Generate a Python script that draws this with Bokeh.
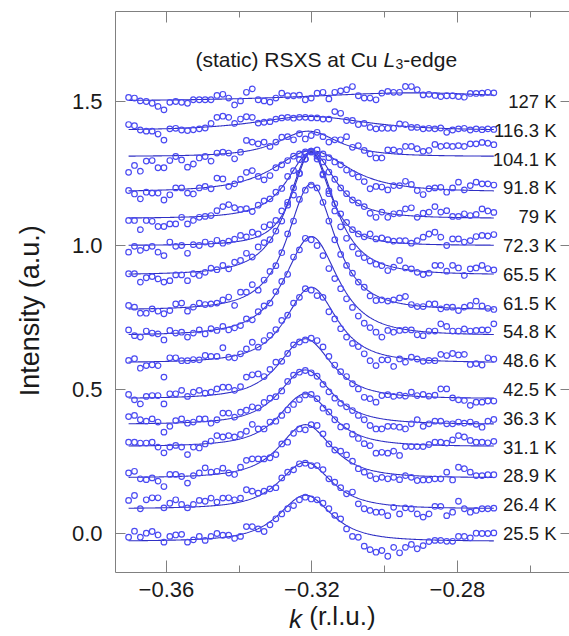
import numpy as np
from bokeh.plotting import figure
from bokeh.models import LinearAxis, FixedTicker, Label, Range1d, CustomJSTickFormatter
from bokeh.core.properties import value
from bokeh.embed import file_html
from bokeh.resources import INLINE

# ---------------- data ----------------
temperatures = ["25.5 K", "26.4 K", "28.9 K", "31.1 K", "36.3 K", "42.5 K",
                "48.6 K", "54.8 K", "61.5 K", "65.5 K", "72.3 K", "79 K",
                "91.8 K", "104.1 K", "116.3 K", "127 K"]
offsets = [0.0, 0.1, 0.2, 0.3, 0.4, 0.5, 0.6, 0.7, 0.8, 0.9, 1.0, 1.1, 1.2, 1.3, 1.4, 1.5]

k_first = -0.3704
k_last = -0.2700
n_points = 63

# measured intensity (units of 1e-3 a.u.) relative to each curve's offset
I_25p5 = [-13, 8, -13, 1, 7, -5, -30, -10, -5, -3, -30, -22, -10, -24, -10, 0, -6, -6, -17, -10, 24, 24, 16, 7, 30, 51, 68, 86, 97, 117, 126, 120, 117, 105, 86, 63, 51, 16, -10, -13, -44, -56, -65, -59, -79, -48, -67, -48, -38, -53, -42, -28, -24, -24, -27, -27, -10, -10, -15, 1, 0, 0, 2]
I_26p4 = [15, 32, -14, 17, 24, 24, -11, 5, 17, 1, -11, 1, 15, 12, 23, 9, 23, 24, 17, 23, 52, 47, 40, 47, 55, 59, 93, 113, 121, 142, 144, 136, 136, 122, 90, 78, 59, 38, 44, 3, -14, -20, -26, -26, -38, -9, -32, -11, -14, -32, -43, -32, -6, -6, -38, -26, 12, -14, -26, -20, -14, -14, -12]
I_28p9 = [10, 16, -10, -13, -7, -18, -37, 5, 5, -2, -25, 1, 10, 28, 13, 16, 27, 10, 5, 30, 54, 59, 59, 59, 63, 74, 111, 117, 148, 163, 160, 178, 175, 146, 111, 90, 86, 73, 51, 25, 13, 1, -10, -5, -10, -5, -13, 1, -5, -16, -14, -14, -10, -10, 13, -14, 30, 25, 13, 1, 1, 4, 4]
I_31p1 = [17, 17, 14, 14, 17, 0, -20, 0, 6, 0, -26, 0, -3, 11, 21, 40, 35, 40, 35, 44, 55, 79, 63, 63, 87, 90, 110, 129, 148, 165, 181, 183, 168, 135, 122, 95, 70, 72, 45, 30, 12, 5, -21, -18, -21, -14, -29, 2, 2, 2, 2, 9, 17, 17, 14, 25, 40, 35, 23, 17, 17, 15, 20]
I_36p3 = [6, 10, -5, -10, -2, -13, -48, -28, -8, -2, -17, -13, -2, -2, -17, -5, 18, 18, 4, 21, 28, 40, 36, 55, 70, 75, 95, 128, 150, 160, 166, 158, 146, 118, 92, 70, 52, 40, 27, 10, -5, -25, -37, -37, -28, -28, -31, -37, -19, -5, -28, -19, -10, -10, -19, -19, -13, -17, -13, -21, -31, -10, -4]
I_42p5 = [-17, -36, -50, -24, -21, -21, -50, -15, -15, -3, -24, -9, -3, -13, -9, 2, 8, 8, -3, 10, 43, 51, 54, 45, 70, 95, 98, 125, 155, 165, 172, 178, 170, 148, 115, 85, 62, 45, 20, 2, -27, -32, -44, -21, -18, -24, -20, -23, -9, -21, -17, -23, -20, 2, 2, -29, -36, -38, -55, -44, -44, -40, -40]
I_48p6 = [1, 7, -26, -17, -14, -17, -57, 10, 10, 0, 0, 4, 3, 18, 15, 15, 45, 12, 10, 24, 41, 64, 47, 70, 88, 108, 140, 158, 200, 220, 250, 245, 226, 220, 170, 145, 111, 82, 60, 49, 24, 0, -17, 3, 3, -20, 6, -5, 12, 6, -2, 1, 0, 22, 18, 25, 20, 22, -13, -10, -15, 10, 5]
I_54p8 = [7, -13, -18, 3, -4, -7, -28, 5, -4, -1, -18, -4, 7, -7, 11, 5, 19, 7, 14, 22, 45, 42, 70, 90, 100, 140, 175, 200, 260, 285, 325, 320, 300, 265, 220, 185, 150, 115, 85, 55, 30, 15, -1, -18, 5, -1, 5, 7, 7, -10, -13, 3, 3, 28, 19, 3, 3, 10, 3, 5, 7, 7, 28]
I_61p5 = [-8, -14, -35, -35, -20, -28, -37, -26, -3, 0, -28, -14, 0, -5, -3, 0, 11, 21, -8, 38, 38, 64, 45, 80, 110, 130, 175, 240, 285, 360, 392, 410, 400, 350, 285, 220, 169, 131, 104, 73, 55, 25, 9, 11, 7, 11, 18, 23, -5, -12, -12, -3, -3, -20, -14, -14, -26, -14, -8, 7, -10, -18, -22]
I_65p5 = [2, 2, -27, -12, -8, -16, -27, -22, -2, -2, -22, 2, -4, 7, 21, 16, 31, 19, 42, 48, 73, 60, 95, 110, 120, 150, 185, 240, 300, 350, 400, 428, 410, 345, 280, 220, 165, 125, 95, 72, 58, 46, 35, 30, 13, 25, 48, 22, 19, 7, -1, 4, 31, 31, 11, 31, 22, -4, 19, 22, 31, 20, 15]
I_72p3 = [-23, -3, -17, -8, -3, -23, -35, 12, -3, 0, -27, 3, 0, 12, 5, 18, 8, 15, 22, 35, 30, 46, 40, 65, 72, 87, 120, 150, 175, 250, 300, 325, 300, 249, 190, 145, 110, 80, 55, 40, 30, 40, 23, 26, 20, 15, 17, 17, 8, 17, 29, 40, 46, 29, 0, 23, 23, 12, 17, 31, 35, 33, 38]
I_79 = [-13, -13, -45, -13, -16, -34, -34, -25, -25, -2, -25, -13, -2, 1, 4, 21, 35, 42, 31, 25, 28, 18, 40, 55, 62, 85, 98, 140, 160, 198, 220, 225, 212, 190, 155, 130, 100, 80, 58, 48, 35, 12, -2, 16, -2, 10, 12, 27, 31, -2, 12, 16, 35, 16, 21, 1, 1, 10, 4, 8, 27, 20, 15]
I_91p8 = [-9, -21, -38, -15, -18, -18, -42, -24, 0, 0, -18, -21, 0, 5, -3, 34, 31, 5, 14, 30, 54, 60, 40, 28, 43, 70, 80, 95, 110, 118, 125, 128, 132, 118, 105, 90, 80, 62, 50, 38, 22, -3, 5, 3, -7, 8, 8, 23, 12, -9, -23, -3, 0, 2, -15, 0, 20, -7, 8, 20, 14, 14, 10]
I_104p1 = [-46, -22, -42, -7, -5, -30, -30, -5, 9, -3, -28, -17, 4, 9, -7, 21, 24, 21, 1, 24, 65, 59, 53, 59, 44, 59, 76, 78, 67, 88, 70, 82, 93, 78, 59, 67, 67, 78, 41, 47, 30, 18, 4, 4, 32, 32, 27, 44, 44, 36, 27, 30, 51, 44, 47, 44, 47, 44, 53, 53, 58, 55, 50]
I_116p3 = [20, 16, 1, -3, -3, -13, -34, 5, 7, 1, -1, 2, 5, 8, 24, 45, 49, 45, 24, 39, 47, 45, 25, 28, 30, 39, 43, 45, 42, 45, 45, 43, 43, 39, 39, 65, 59, 34, 34, 20, 24, 10, 5, 7, 7, 7, 22, 20, 10, 10, 5, 7, 5, 8, -7, 1, 5, 7, 1, 5, 2, 5, 3]
I_127 = [14, 12, 2, 0, -6, -17, -29, -3, 0, -3, -6, 6, 6, 6, 6, 21, 25, 12, -12, 2, 32, 44, 6, 2, -2, 12, 29, 20, 20, 22, 6, 12, 29, 32, 9, 32, 37, 41, 52, 20, 12, 12, 6, 29, 35, 32, 32, 52, 52, 41, 23, 25, 21, 17, 20, 20, 17, 15, 28, 28, 29, 32, 30]

measured = [I_25p5, I_26p4, I_28p9, I_31p1, I_36p3, I_42p5, I_48p6, I_54p8,
            I_61p5, I_65p5, I_72p3, I_79, I_91p8, I_104p1, I_116p3, I_127]

# fit parameters (peak model on a flat background)
fit_center = [-0.3218, -0.3218, -0.3218, -0.3218, -0.3218, -0.3218, -0.3202, -0.3202,
              -0.3202, -0.3202, -0.3202, -0.3202, -0.3202, -0.3210, -0.3205, -0.2920]
fit_background = [-0.027, -0.014, -0.007, 0.002, -0.021, -0.032, -0.007, -0.0125,
                  -0.024, -0.002, 0.0, -0.006, -0.014, 0.009, -0.001, 0.0]
fit_amplitude = [0.160, 0.161, 0.185, 0.183, 0.189, 0.208, 0.262, 0.344,
                 0.438, 0.427, 0.325, 0.231, 0.143, 0.088, 0.049, 0.030]
fit_hwhm = [0.0085, 0.0085, 0.0085, 0.0085, 0.0085, 0.0085, 0.0082, 0.0085,
            0.0076, 0.0075, 0.0058, 0.0076, 0.0120, 0.0097, 0.0180, 0.0350]

x_ticks = [-0.36, -0.32, -0.28]
x_minor_ticks = [-0.34, -0.30, -0.26]
y_ticks = [0.0, 0.5, 1.0, 1.5]

# ---------------- styling / layout ----------------
FONT = "Liberation Sans"
PT_COLOR = "#4a4af2"
LINE_COLOR = "#2f2fc4"
AX_COLOR = "#808080"
TXT = "#1a1a1a"
NBSP = "\u00a0"

X0, X1 = -0.374, -0.2492
Y0, Y1 = -0.1354, 1.8125
FRAME_L, FRAME_R, FRAME_T, FRAME_B = 115, 569, 11, 572   # canvas pixels


def kx(px):
    return X0 + (px - FRAME_L) * (X1 - X0) / (FRAME_R - FRAME_L)


def vy(py):
    return Y0 + (FRAME_B - py) * (Y1 - Y0) / (FRAME_B - FRAME_T)


p = figure(width=569, height=636, output_backend="svg", toolbar_location=None,
           x_range=Range1d(X0, X1), y_range=Range1d(Y0, Y1),
           min_border_left=115, min_border_right=0, min_border_top=11, min_border_bottom=64)
p.outline_line_color = None
p.grid.visible = False
p.background_fill_color = "white"
p.border_fill_color = "white"

k = np.linspace(k_first, k_last, n_points)
kf = np.linspace(k_first, k_last, 500)
for i in range(len(temperatures)):
    w = fit_hwhm[i] / np.sqrt(2 ** (2.0 / 3.0) - 1.0)
    yf = offsets[i] + fit_background[i] + fit_amplitude[i] * (1.0 + ((kf - fit_center[i]) / w) ** 2) ** -1.5
    p.line(kf, yf, line_color=LINE_COLOR, line_width=1.1)
for i in range(len(temperatures)):
    yv = offsets[i] + np.array(measured[i], dtype=float) / 1000.0
    p.scatter(k, yv, marker="circle", size=5.6, fill_color=None,
              line_color=PT_COLOR, line_width=1.2)

# temperature labels
p.text(x=[kx(556)] * len(temperatures), y=offsets, text=temperatures,
       text_align="right", text_baseline="middle", text_font=value(FONT),
       text_font_size="18.5px", text_color=TXT)

# axes
xfmt = CustomJSTickFormatter(code="return tick.toFixed(2).replace('-', '\u2212');")
yfmt = CustomJSTickFormatter(code="return tick.toFixed(1);")
blank = CustomJSTickFormatter(code="return '';")


def style_axis(ax, major_in, minor_in):
    ax.axis_line_color = AX_COLOR
    ax.major_tick_line_color = AX_COLOR
    ax.minor_tick_line_color = AX_COLOR
    ax.major_tick_in = major_in
    ax.major_tick_out = 0
    ax.minor_tick_in = minor_in
    ax.minor_tick_out = 0
    ax.major_label_text_font = FONT
    ax.major_label_text_color = TXT
    ax.axis_label_text_font = FONT
    ax.axis_label_text_color = TXT
    ax.axis_label_text_font_style = "normal"


xa = p.xaxis[0]
xa.ticker = FixedTicker(ticks=x_ticks, minor_ticks=x_minor_ticks)
xa.formatter = xfmt
style_axis(xa, 12, 7)
xa.major_label_text_font_size = "22px"
xa.major_label_standoff = 9
xa.axis_label = "(r.l.u.)"
xa.axis_label_text_font_size = "26px"
xa.axis_label_standoff = 1

# italic "k" of the x-axis title, drawn by an extra tick-less axis pulled up beside "(r.l.u.)"
kaxis = LinearAxis(ticker=FixedTicker(ticks=[], minor_ticks=[]), formatter=blank)
style_axis(kaxis, 0, 0)
kaxis.axis_line_color = None
kaxis.major_label_text_font_size = "1px"
kaxis.major_label_standoff = 0
kaxis.axis_label = "k" + NBSP * 13
kaxis.axis_label_text_font_size = "26px"
kaxis.axis_label_text_font_style = "italic"
kaxis.axis_label_standoff = -30
p.add_layout(kaxis, "below")

ya = p.yaxis[0]
ya.ticker = FixedTicker(ticks=y_ticks, minor_ticks=[])
ya.formatter = yfmt
style_axis(ya, 10, 0)
ya.major_label_text_font_size = "22px"
ya.major_label_standoff = 13
ya.axis_label = "Intensity (a.u.)" + NBSP * 5
ya.axis_label_text_font_size = "27px"
ya.axis_label_standoff = 24

top = LinearAxis(ticker=FixedTicker(ticks=x_ticks, minor_ticks=x_minor_ticks), formatter=blank)
style_axis(top, 11, 6)
top.major_label_text_font_size = "1px"
top.major_label_standoff = 0
p.add_layout(top, "above")

# right side: ticks only (the frame edge itself lies at the picture's border)
right = LinearAxis(ticker=FixedTicker(ticks=y_ticks, minor_ticks=[]), formatter=blank)
style_axis(right, 9, 0)
right.axis_line_color = None
right.major_label_text_font_size = "1px"
right.major_label_standoff = 0
p.add_layout(right, "right")

# title inside the frame: "(static) RSXS at Cu L3-edge"
tx, ty = kx(195), vy(58.5)
fs = 21.0
w_main = 8.947 * fs
w_L = 0.556 * fs
parts = [
    ("(static) RSXS at Cu", 0.0, 0.0, "normal", fs),
    ("L", w_main, 0.0, "italic", fs),
    ("3", w_main + w_L + 0.5, -4.5, "normal", 14.0),
    ("-edge", w_main + w_L + 0.5 + 0.556 * 14.0, 0.0, "normal", fs),
]
for txt, dx, dy, style, size in parts:
    p.add_layout(Label(x=tx, y=ty, x_offset=dx, y_offset=dy, text=txt,
                       text_font=FONT, text_font_size=f"{size}px", text_font_style=style,
                       text_align="left", text_baseline="alphabetic", text_color=TXT))

open("out.html", "w").write(file_html(p, INLINE))
